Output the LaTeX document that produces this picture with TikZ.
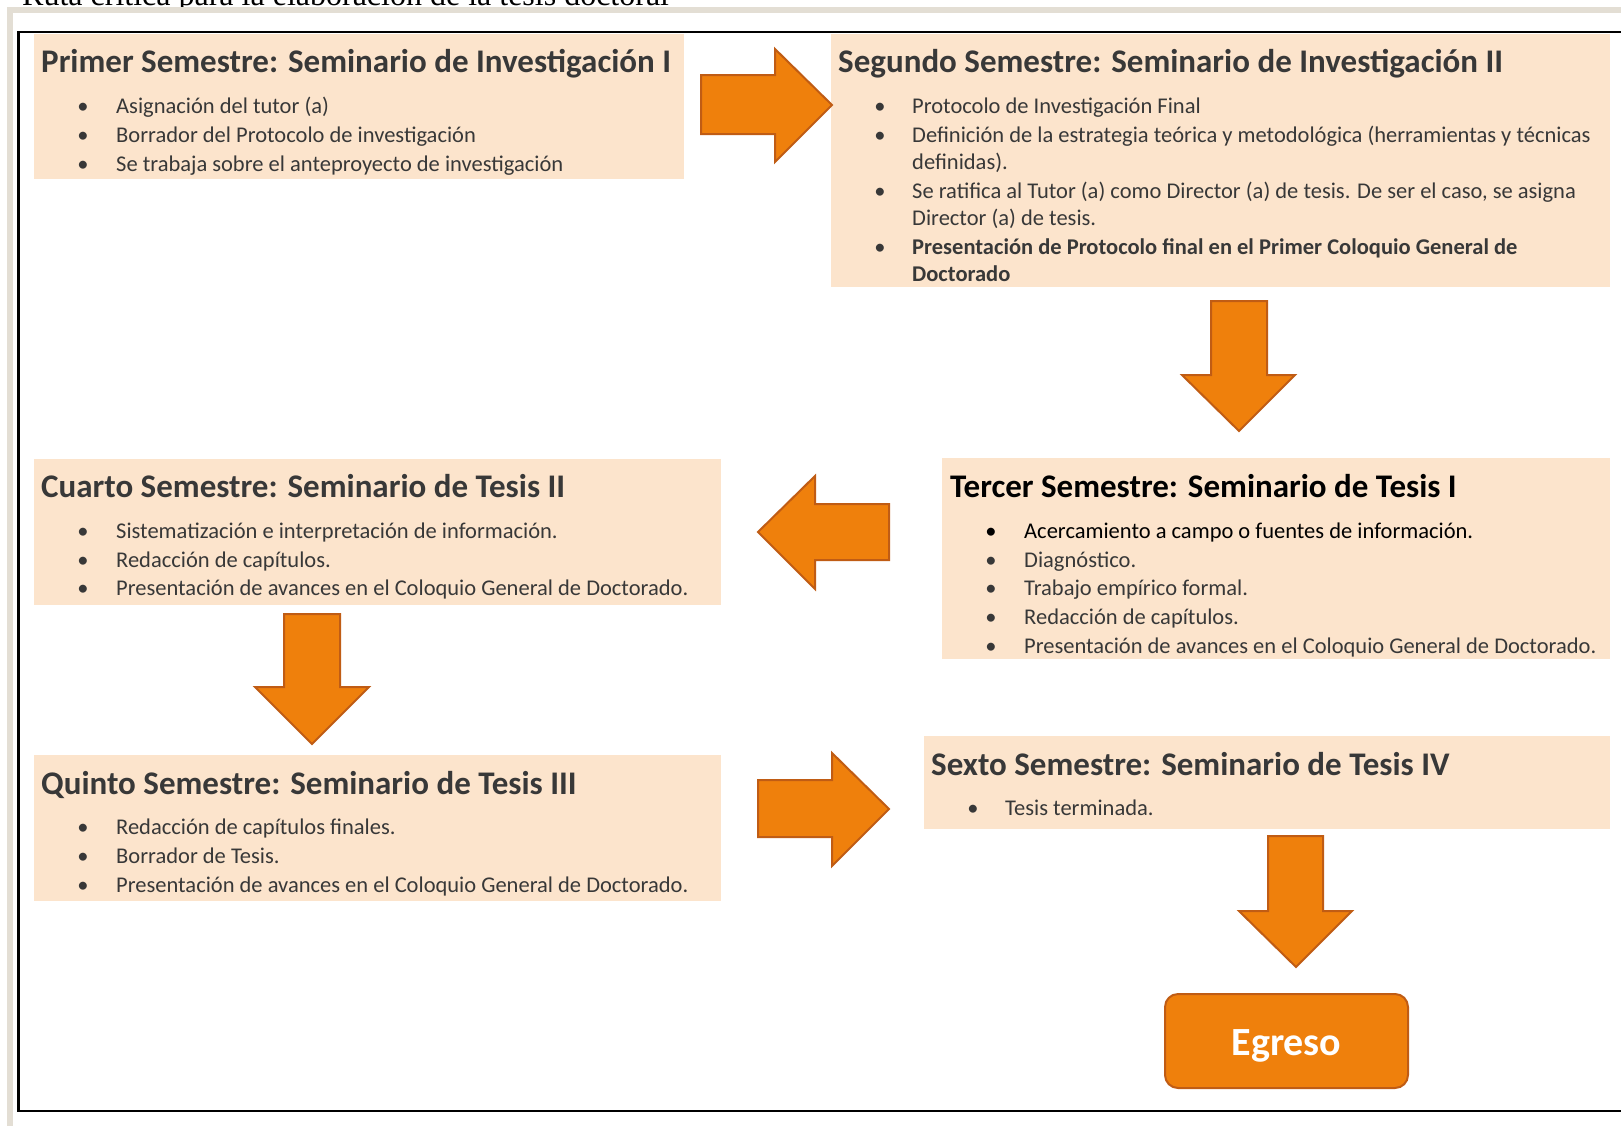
\documentclass[tikz,border=0pt]{standalone}
\usepackage{fontspec}
\setmainfont{Carlito}
\newfontfamily\serifttl{Liberation Serif}
\definecolor{peach}{RGB}{252,228,204}
\definecolor{orangef}{RGB}{239,128,12}
\definecolor{oranged}{RGB}{192,92,20}
\definecolor{framegray}{RGB}{227,222,212}
\definecolor{txtgray}{RGB}{56,56,56}
\begin{document}
\begin{tikzpicture}[x=1pt,y=-1pt,
  box/.style={fill=peach,draw=none,inner sep=0pt,anchor=north west},
  ttl/.style={anchor=base west,inner sep=0pt,font=\fontsize{33}{40}\selectfont\bfseries,text=txtgray},
  itm/.style={anchor=base west,inner sep=0pt,font=\fontsize{22.5}{27}\selectfont,text=txtgray},
  dot/.style={anchor=base,inner sep=0pt,font=\fontsize{22.5}{27}\selectfont,text=txtgray},
  arr/.style={fill=orangef,draw=oranged,line width=2pt,line join=miter},
  blk/.style={text=black}]
\useasboundingbox (0,0) rectangle (1621,1125);
\clip (0,0) rectangle (1621,1125);
% frames
\fill[white] (0,0) rectangle (1621,1125);
\node[anchor=base west,inner sep=0pt,font=\serifttl\fontsize{32}{38}\selectfont] (maintitle) at (22,5) {Ruta crítica para la elaboración de la tesis doctoral};
\draw[framegray,line width=6pt] (10,1140) -- (10,10) -- (1640,10);
\draw[black,line width=2.5pt] (1640,32) -| (18.5,1111) -- (1640,1111);
% boxes
\node[box,minimum width=650pt,minimum height=145pt] (b1) at (34,34) {};
\node[box,minimum width=779pt,minimum height=253pt] (b2) at (831,34) {};
\node[box,minimum width=668pt,minimum height=201pt] (b3) at (942,458) {};
\node[box,minimum width=687pt,minimum height=146pt] (b4) at (34,459) {};
\node[box,minimum width=687pt,minimum height=146pt] (b5) at (34,755) {};
\node[box,minimum width=686pt,minimum height=93pt] (b6) at (924,736) {};
% arrows
\draw[arr] (701,75) -- (775,75) -- (775,49) -- (832,105) -- (775,162) -- (775,134) -- (701,134) -- cycle;
\draw[arr] (1211,301) -- (1267,301) -- (1267,375) -- (1295,375) -- (1239,431) -- (1182,375) -- (1211,375) -- cycle;
\draw[arr] (889,504) -- (815,504) -- (815,476) -- (758,532) -- (815,589) -- (815,560) -- (889,560) -- cycle;
\draw[arr] (284,614) -- (340,614) -- (340,687) -- (369,687) -- (312,744) -- (255,687) -- (284,687) -- cycle;
\draw[arr] (758,780) -- (832,780) -- (832,753) -- (889,809) -- (832,866) -- (832,837) -- (758,837) -- cycle;
\draw[arr] (1268,836) -- (1323,836) -- (1323,911) -- (1352,911) -- (1296,967) -- (1239,911) -- (1268,911) -- cycle;
% Egreso
\node[fill=orangef,draw=oranged,line width=2pt,rounded corners=13pt,minimum width=243pt,minimum height=94pt,inner sep=0pt] (egreso) at (1286.5,1041) {};
\node[anchor=base,inner sep=0pt,font=\fontsize{40}{48}\selectfont\bfseries,text=white] (egresot) at (1286.5,1055) {Egreso};
% Box 1
\node[ttl] (b1t) at (41,72) {Primer Semestre: Seminario de Investigación I};
\node[dot] (b1d1) at (83,113) {•}; \node[itm] (b1i1) at (116,113) {Asignación del tutor (a)};
\node[dot] (b1d2) at (83,142) {•}; \node[itm] (b1i2) at (116,142) {Borrador del Protocolo de investigación};
\node[dot] (b1d3) at (83,171) {•}; \node[itm] (b1i3) at (116,171) {Se trabaja sobre el anteproyecto de investigación};
% Box 2
\node[ttl] (b2t) at (838,72) {Segundo Semestre: Seminario de Investigación II};
\node[dot] (b2d1) at (880,113) {•}; \node[itm] (b2i1) at (912,113) {Protocolo de Investigación Final};
\node[dot] (b2d2) at (880,142) {•}; \node[itm] (b2i2) at (912,142) {Definición de la estrategia teórica y metodológica (herramientas y técnicas};
\node[itm] (b2i2b) at (912,169) {definidas).};
\node[dot] (b2d3) at (880,198) {•}; \node[itm] (b2i3) at (912,198) {Se ratifica al Tutor (a) como Director (a) de tesis. De ser el caso, se asigna};
\node[itm] (b2i3b) at (912,225) {Director (a) de tesis.};
\node[dot] (b2d4) at (880,254) {•}; \node[itm,font=\fontsize{22.5}{27}\selectfont\bfseries] (b2i4) at (912,254) {Presentación de Protocolo final en el Primer Coloquio General de};
\node[itm,font=\fontsize{22.5}{27}\selectfont\bfseries] (b2i4b) at (912,281) {Doctorado};
% Box 3
\node[ttl,blk] (b3t) at (950,497) {Tercer Semestre: Seminario de Tesis I};
\node[dot,blk] (b3d1) at (991,538) {•}; \node[itm,blk] (b3i1) at (1024,538) {Acercamiento a campo o fuentes de información.};
\node[dot] (b3d2) at (991,567) {•}; \node[itm] (b3i2) at (1024,567) {Diagnóstico.};
\node[dot] (b3d3) at (991,595) {•}; \node[itm] (b3i3) at (1024,595) {Trabajo empírico formal.};
\node[dot] (b3d4) at (991,624) {•}; \node[itm] (b3i4) at (1024,624) {Redacción de capítulos.};
\node[dot] (b3d5) at (991,653) {•}; \node[itm] (b3i5) at (1024,653) {Presentación de avances en el Coloquio General de Doctorado.};
% Box 4
\node[ttl] (b4t) at (41,497) {Cuarto Semestre: Seminario de Tesis II};
\node[dot] (b4d1) at (83,538) {•}; \node[itm] (b4i1) at (116,538) {Sistematización e interpretación de información.};
\node[dot] (b4d2) at (83,567) {•}; \node[itm] (b4i2) at (116,567) {Redacción de capítulos.};
\node[dot] (b4d3) at (83,595) {•}; \node[itm] (b4i3) at (116,595) {Presentación de avances en el Coloquio General de Doctorado.};
% Box 5
\node[ttl] (b5t) at (41,794) {Quinto Semestre: Seminario de Tesis III};
\node[dot] (b5d1) at (83,834) {•}; \node[itm] (b5i1) at (116,834) {Redacción de capítulos finales.};
\node[dot] (b5d2) at (83,863) {•}; \node[itm] (b5i2) at (116,863) {Borrador de Tesis.};
\node[dot] (b5d3) at (83,892) {•}; \node[itm] (b5i3) at (116,892) {Presentación de avances en el Coloquio General de Doctorado.};
% Box 6
\node[ttl] (b6t) at (931,775) {Sexto Semestre: Seminario de Tesis IV};
\node[dot] (b6d1) at (973,815) {•}; \node[itm] (b6i1) at (1005,815) {Tesis terminada.};
\end{tikzpicture}
\end{document}
